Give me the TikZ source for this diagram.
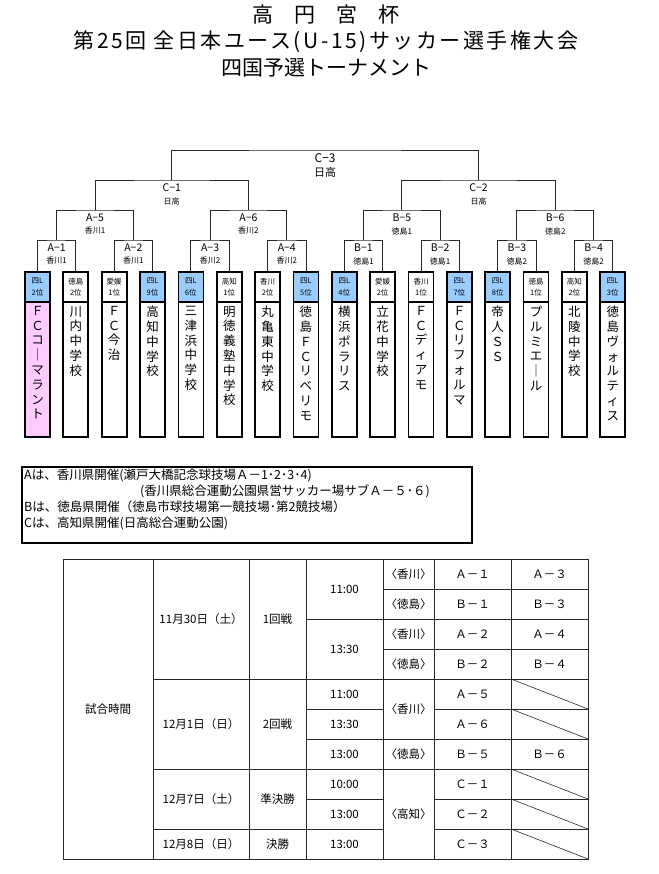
\documentclass[tikz,border=0pt]{standalone}
\usepackage{fontspec}
\setmainfont{Noto Sans CJK JP}
\usetikzlibrary{positioning,calc}
\definecolor{bleuL}{RGB}{153,204,255}
\definecolor{rosefc}{RGB}{255,204,255}
\definecolor{trait}{RGB}{40,40,40}

\begin{document}
\begin{tikzpicture}[x=1pt,y=-1pt,
    tete/.style={draw,line width=1.8pt,outer sep=0pt,inner sep=0pt,minimum width=25pt,minimum height=30pt,align=center,font=\fontsize{7.5}{11.5}\selectfont},
    corps/.style={draw,line width=1.8pt,outer sep=0pt,inner sep=0pt,minimum width=25pt,minimum height=135pt},
    nom/.style={inner sep=0pt,align=center,font=\fontsize{12.5}{14.8}\selectfont},
    branche/.style={draw=trait,line width=.9pt},
    code/.style={inner sep=0pt,font=\fontsize{10.5}{12}\selectfont},
    lieu/.style={inner sep=0pt,font=\fontsize{8}{9}\selectfont},
    titre/.style={inner sep=0pt,font=\fontsize{21}{24}\selectfont},
    notes/.style={inner sep=0pt,anchor=north west,align=left,font=\fontsize{12.5}{16}\selectfont},
    cell/.style={inner sep=0pt,font=\fontsize{11.5}{13}\selectfont},
    grille/.style={draw=trait,line width=.8pt}]
\useasboundingbox (0,0) rectangle (658,874);
% titre
\node[titre] (titre1) at (326,15) {高　円　宮　杯};
\node[titre,font=\fontsize{21}{24}\selectfont\addfontfeature{LetterSpace=12}] (titre2) at (326,42) {第25回 全日本ユース(U-15)サッカー選手権大会};
\node[titre] (titre3) at (326,68) {四国予選トーナメント};
% equipes
\foreach \i/\fond/\fc/\hd/\nm in {1/bleuL/rosefc/{四L\\2位}/{Ｆ\\Ｃ\\コ\\｜\\マ\\ラ\\ン\\ト},
  2/white/white/{徳島\\2位}/{川\\内\\中\\学\\校},
  3/white/white/{愛媛\\1位}/{Ｆ\\Ｃ\\今\\治},
  4/bleuL/white/{四L\\9位}/{高\\知\\中\\学\\校},
  5/bleuL/white/{四L\\6位}/{三\\津\\浜\\中\\学\\校},
  6/white/white/{高知\\1位}/{明\\徳\\義\\塾\\中\\学\\校},
  7/white/white/{香川\\2位}/{丸\\亀\\東\\中\\学\\校},
  8/bleuL/white/{四L\\5位}/{徳\\島\\Ｆ\\Ｃ\\リ\\ベ\\リ\\モ},
  9/bleuL/white/{四L\\4位}/{横\\浜\\ポ\\ラ\\リ\\ス},
  10/white/white/{愛媛\\2位}/{立\\花\\中\\学\\校},
  11/white/white/{香川\\1位}/{Ｆ\\Ｃ\\デ\\ィ\\ア\\モ},
  12/bleuL/white/{四L\\7位}/{Ｆ\\Ｃ\\リ\\フ\\ォ\\ル\\マ},
  13/bleuL/white/{四L\\8位}/{帝\\人\\Ｓ\\Ｓ},
  14/white/white/{徳島\\1位}/{プ\\ル\\ミ\\エ\\｜\\ル},
  15/white/white/{高知\\2位}/{北\\陵\\中\\学\\校},
  16/bleuL/white/{四L\\3位}/{徳\\島\\ヴ\\ォ\\ル\\テ\\ィ\\ス}}{
  \node[tete,fill=\fond] (t\i) at ({37.5+38.35*(\i-1)},287) {\hd};
  \node[corps,fill=\fc,below=0pt of t\i] (n\i) {};
  \node[nom,below=4pt of n\i.north] (m\i) {\nm};
}
% tableau de la coupe
\foreach \m/\g/\d in {A1/t1/t2,A2/t3/t4,A3/t5/t6,A4/t7/t8,B1/t9/t10,B2/t11/t12,B3/t13/t14,B4/t15/t16}{
  \path ($(\g.north)!.5!(\d.north)$) ++(0,-32) coordinate (\m);
  \draw[branche] (\g.north) |- (\m) -| (\d.north);
}
\foreach \m/\g/\d/\h in {A5/A1/A2/30,A6/A3/A4/30,B5/B1/B2/30,B6/B3/B4/30,C1/A5/A6/30,C2/B5/B6/30,C3/C1/C2/30}{
  \path ($(\g)!.5!(\d)$) ++(0,-\h) coordinate (\m);
  \draw[branche] (\g) |- (\m) -| (\d);
}
\foreach \m/\cd/\lu in {A1/A−1/香川1,A2/A−2/香川1,A3/A−3/香川2,A4/A−4/香川2,B1/B−1/徳島1,B2/B−2/徳島1,B3/B−3/徳島2,B4/B−4/徳島2,A5/A−5/香川1,A6/A−6/香川2,B5/B−5/徳島1,B6/B−6/徳島2,C1/C−1/日高,C2/C−2/日高}{
  \node[code] (c\m) at ($(\m)+(0,8)$) {\cd};
  \node[lieu] (l\m) at ($(\m)+(0,21)$) {\lu};
}
\node[code,font=\fontsize{12}{13}\selectfont] (cC3) at ($(C3)+(0,8)$) {C−3};
\node[lieu,font=\fontsize{11}{12}\selectfont] (lC3) at ($(C3)+(0,22)$) {日高};
% lieux
\draw[line width=1.5pt] (22,467) rectangle (472,543);
\node[notes] (lieux) at (24,469) {Aは、香川県開催(瀬戸大橋記念球技場Ａ－1･2･3･4)\\
  \hspace*{116pt}(香川県総合運動公園県営サッカー場サブＡ－５･６)\\
  Bは、徳島県開催（徳島市球技場第一競技場･第2競技場）\\
  Cは、高知県開催(日高総合運動公園)};
% horaires
\draw[grille] (63,559) rectangle (588,859);
\foreach \x in {153,249,306,383,434,511} \draw[grille] (\x,559) -- (\x,859);
\foreach \y/\a/\b in {589/383/588,619/306/588,649/383/588,679/153/588,709/306/383,709/434/588,739/306/588,769/153/588,799/306/383,799/434/588,829/153/383,829/434/588}
  \draw[grille] (\a,\y) -- (\b,\y);
\foreach \y in {679,709,769,799,829} \draw[grille,line width=.6pt] (511,\y) -- (588,\y+30);
\foreach \x/\y/\t [count=\k] in {108/709/試合時間,
  201/619/11月30日（土）,201/724/12月1日（日）,201/799/12月7日（土）,201/844/12月8日（日）,
  277.5/619/1回戦,277.5/724/2回戦,277.5/799/準決勝,277.5/844/決勝,
  344.5/589/11:00,344.5/649/13:30,344.5/694/11:00,344.5/724/13:30,344.5/754/13:00,344.5/784/10:00,344.5/814/13:00,344.5/844/13:00,
  408.5/574/〈香川〉,408.5/604/〈徳島〉,408.5/634/〈香川〉,408.5/664/〈徳島〉,408.5/709/〈香川〉,408.5/754/〈徳島〉,408.5/814/〈高知〉,
  472.5/574/Ａ－１,472.5/604/Ｂ－１,472.5/634/Ａ－２,472.5/664/Ｂ－２,472.5/694/Ａ－５,472.5/724/Ａ－６,472.5/754/Ｂ－５,472.5/784/Ｃ－１,472.5/814/Ｃ－２,472.5/844/Ｃ－３,
  549.5/574/Ａ－３,549.5/604/Ｂ－３,549.5/634/Ａ－４,549.5/664/Ｂ－４,549.5/754/Ｂ－６}
  \node[cell] (cel\k) at (\x,\y) {\t};
\end{tikzpicture}
\end{document}
